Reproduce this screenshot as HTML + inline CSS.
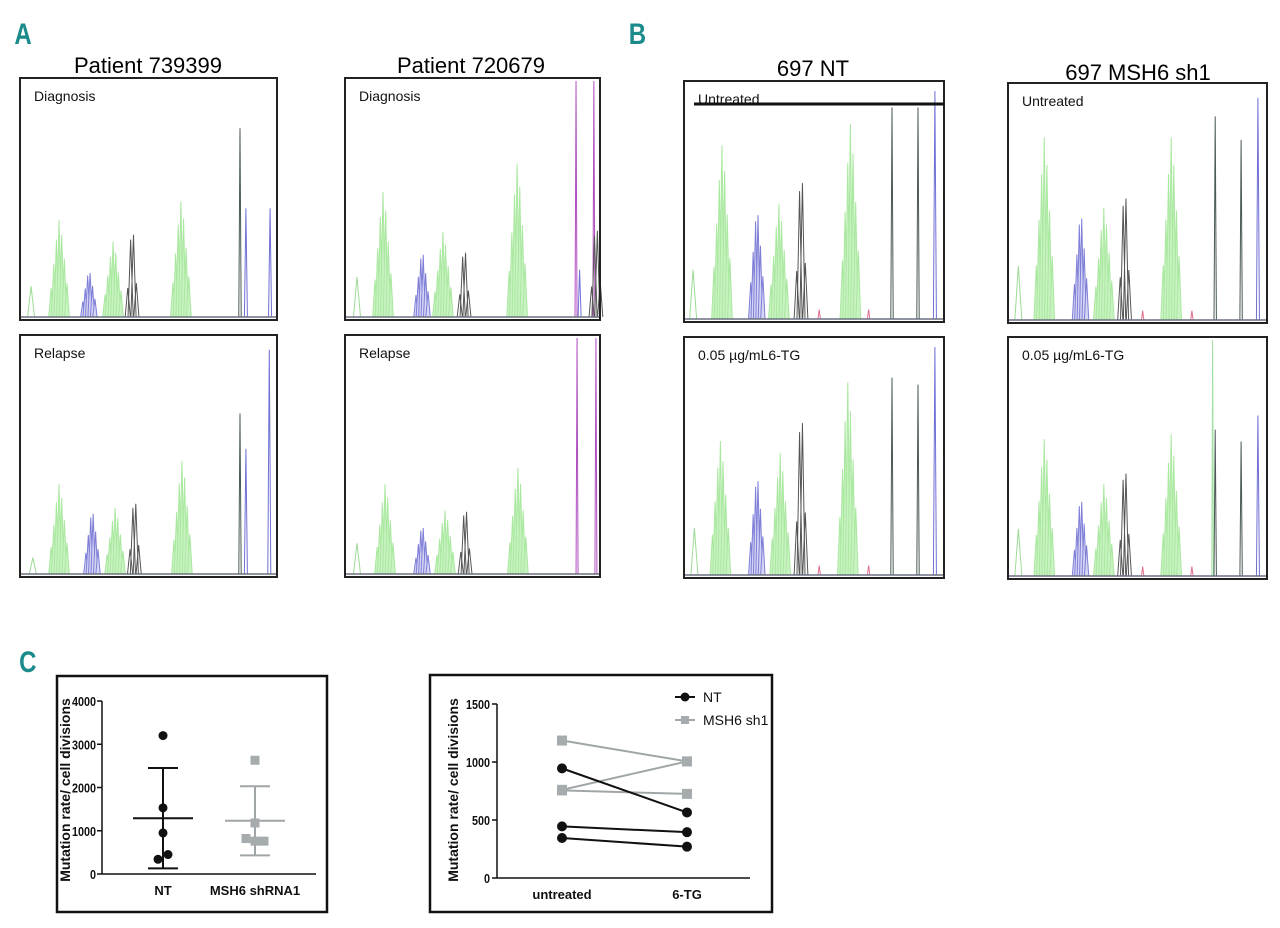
<!DOCTYPE html>
<html><head><meta charset="utf-8">
<style>
html,body{margin:0;padding:0;background:#fff;}
svg{display:block;font-family:"Liberation Sans",sans-serif;}
.lbl{font-family:"Liberation Sans",sans-serif;font-weight:bold;fill:#1a8a8a;font-size:30px;}
</style></head>
<body>
<svg id="fig" width="1280" height="928" viewBox="0 0 1280 928" xmlns="http://www.w3.org/2000/svg">
<text class="lbl" x="14" y="44" transform="scale(0.8,1) translate(4,0)">A</text>
<text class="lbl" x="786" y="44" transform="scale(0.8,1)">B</text>
<text class="lbl" x="24" y="672" transform="scale(0.8,1)">C</text>
<text x="148" y="73" font-size="22" text-anchor="middle">Patient 739399</text>
<text x="471" y="73" font-size="22" text-anchor="middle">Patient 720679</text>
<text x="813" y="76" font-size="22" text-anchor="middle">697 NT</text>
<text x="1138" y="80" font-size="22" text-anchor="middle">697 MSH6 sh1</text>
<g id="traces"></g>
<g id="chartC"></g>
</svg>
<script>
// ---------- Electropherogram panels ----------
const panelNames = ['a1-diagnosis','a1-relapse','a2-diagnosis','a2-relapse','b-nt-untreated','b-nt-6tg','b-sh1-untreated','b-sh1-6tg'];
const panelLabels = ['Diagnosis','Relapse','Diagnosis','Relapse','Untreated','0.05 µg/mL6-TG','Untreated','0.05 µg/mL6-TG'];
const panelBoxes = [[20,78,257,242],[20,335,257,242],[345,78,255,242],[345,335,255,242],[684,81,260,241],[684,337,260,241],[1008,83,259,240],[1008,337,259,242]];
// peaks: [x fraction, height fraction, type]
const peaks = [
 [[.043,.13,'s'],[.152,.41,'g'],[.268,.22,'b'],[.362,.32,'g'],[.436,.41,'k'],[.626,.49,'g'],[.856,.8,'K'],[.879,.46,'B'],[.973,.46,'B']],
 [[.05,.07,'s'],[.152,.38,'g'],[.28,.3,'b'],[.37,.28,'g'],[.445,.35,'k'],[.63,.48,'g'],[.856,.68,'K'],[.879,.53,'B'],[.97,.95,'B']],
 [[.047,.17,'s'],[.149,.53,'g'],[.302,.31,'b'],[.384,.36,'g'],[.467,.32,'k'],[.675,.65,'g'],[.906,1,'P'],[.92,.2,'B'],[.976,1,'P'],[.984,.43,'k']],
 [[.047,.13,'s'],[.157,.38,'g'],[.302,.23,'b'],[.392,.27,'g'],[.471,.31,'k'],[.678,.45,'g'],[.91,1,'P'],[.984,1,'P']],
 [[.035,.21,'s'],[.146,.74,'g'],[.28,.52,'b'],[.365,.49,'g'],[.45,.68,'k'],[.64,.83,'g'],[.8,.9,'K'],[.9,.9,'K'],[.965,.97,'B'],[.52,.04,'r'],[.71,.04,'r']],
 [[.04,.2,'s'],[.14,.57,'g'],[.28,.47,'b'],[.37,.52,'g'],[.45,.76,'k'],[.63,.82,'g'],[.8,.84,'K'],[.9,.81,'K'],[.965,.97,'B'],[.52,.04,'r'],[.71,.04,'r']],
 [[.04,.23,'s'],[.14,.78,'g'],[.28,.51,'b'],[.37,.48,'g'],[.45,.61,'k'],[.63,.78,'g'],[.8,.87,'K'],[.9,.77,'K'],[.965,.95,'B'],[.52,.04,'r'],[.71,.04,'r']],
 [[.04,.2,'s'],[.14,.58,'g'],[.28,.37,'b'],[.37,.39,'g'],[.45,.51,'k'],[.63,.6,'g'],[.79,1,'G'],[.8,.62,'K'],[.9,.57,'K'],[.965,.68,'B'],[.52,.04,'r'],[.71,.04,'r']]
];
const NS='http://www.w3.org/2000/svg';
function mk(tag, attrs, parent){const e=document.createElementNS(NS,tag);for(const k in attrs)e.setAttribute(k,attrs[k]);parent.appendChild(e);return e;}
const env=[.3,.55,.8,1,.85,.6,.35];
const styles={g:['#a9e89f','#c9f2c2',7,2.4],b:['#7f7fd8','#d4d4f4',6,2.2],k:['#555','none',4,2.6],s:['#9edb96','none',1,3.5],K:['#4a5a55','none',1,1.2],B:['#7070d6','none',1,1.5],P:['#b050c0','none',1,1],G:['#a0e0a0','none',1,.8],r:['#e07090','none',1,1.2]};
const tg=document.getElementById('traces');
panelBoxes.forEach((bx,pi)=>{
  const [L,T,W,H]=bx; const base=T+H-3;
  const g=mk('g',{},tg);
  
  
  peaks[pi].forEach(p=>{
    const [xf,hf,t]=p; const st=styles[t]; const cx=L+xf*W; const hmax=hf*(H-6);
    const n=st[2];
    for(let i=0;i<n;i++){
      const e=n===1?1:(n===7?env[i]:env[Math.min(6,Math.round(i*6/(n-1)))]);
      const x=cx+(i-(n-1)/2)*st[3]*1.1; const h=hmax*e; const w=st[3];
      const pk=mk('path',{d:`M${x-w},${base} L${x},${base-h} L${x+w},${base}`,fill:st[1],stroke:st[0],'stroke-width':1},g);
      
      
    }
  });
  mk('line',{x1:L,y1:base,x2:L+W,y2:base,stroke:'#6a7080','stroke-width':1.5},g);
  const r=mk('rect',{x:L,y:T,width:W,height:H,fill:'none',stroke:'#222','stroke-width':2},g);
  
  
  const tx=mk('text',{x:L+14,y:T+23,'font-size':14,fill:'#111'},g);
  tx.textContent=panelLabels[pi];
  
  
});
mk('line',{x1:694,y1:104,x2:944,y2:104,stroke:'#111','stroke-width':3},tg);

// ---------- Panel C ----------
const dotCats=['NT','MSH6 shRNA1'];
const ntPoints=[3200,1530,950,450,340];
const ntOffsets=[0,0,0,1,-1];
const shPoints=[2630,1180,820,760,760];
const shOffsets=[0,0,-1,0,1];
const ntStats=[1290,2450,130]; // mean, upper, lower
const shStats=[1230,2030,430];
const dotTicks=[0,1000,2000,3000,4000];

const lineCats=['untreated','6-TG'];
const ntPairs=[[945,565],[445,395],[345,270]];
const shPairs=[[1185,1005],[760,1005],[755,725]];
const lineTicks=[0,500,1000,1500];

const cg=document.getElementById('chartC');
function txt(x,y,s,attrs,name){const t=mk('text',Object.assign({x:x,y:y,'font-size':14,'font-weight':'bold',fill:'#111'},attrs||{}),cg);t.textContent=s;return t;}
function tick(x,y,v){const s=String(v);return txt(x,y,s,{'text-anchor':'end','font-size':13,textLength:s.length*6,lengthAdjust:'spacingAndGlyphs'},'y-tick-label');}
// left chart
let b1=mk('rect',{x:57,y:676,width:270,height:236,fill:'none',stroke:'#111','stroke-width':2.5},cg);

const y1=v=>874-(v/4000)*173;
const x1=i=>[163,255][i];
mk('line',{x1:102,y1:y1(4000),x2:102,y2:y1(0),stroke:'#111','stroke-width':1.5},cg);
mk('line',{x1:102,y1:y1(0),x2:316,y2:y1(0),stroke:'#111','stroke-width':1.5},cg);
dotTicks.forEach(v=>{mk('line',{x1:97,y1:y1(v),x2:102,y2:y1(v),stroke:'#111','stroke-width':1.5},cg);tick(96,y1(v)+5,v);});
dotCats.forEach((c,i)=>txt(x1(i),y1(0)+21,c,{'text-anchor':'middle','font-size':13},'x-tick-label'));
txt(0,0,'Mutation rate/ cell divisions',{'font-size':14,'text-anchor':'middle',transform:'translate(70,790) rotate(-90)'},'y-axis-title');
function errbar(i,st,col,name){const x=x1(i);const g=mk('g',{stroke:col,'stroke-width':2},cg);
 mk('line',{x1:x-30,y1:y1(st[0]),x2:x+30,y2:y1(st[0])},g);mk('line',{x1:x,y1:y1(st[1]),x2:x,y2:y1(st[2])},g);
 mk('line',{x1:x-15,y1:y1(st[1]),x2:x+15,y2:y1(st[1])},g);mk('line',{x1:x-15,y1:y1(st[2]),x2:x+15,y2:y1(st[2])},g);}
errbar(0,ntStats,'#111','nt-mean-sd');errbar(1,shStats,'#a0a6a8','msh6-mean-sd');
ntPoints.forEach((v,k)=>{const c=mk('circle',{cx:x1(0)+ntOffsets[k]*5,cy:y1(v),r:4.5,fill:'#111'},cg);});
shPoints.forEach((v,k)=>{const c=mk('rect',{x:x1(1)+shOffsets[k]*9-4.5,y:y1(v)-4.5,width:9,height:9,fill:'#a6acae'},cg);});
// right chart
let b2=mk('rect',{x:430,y:675,width:342,height:237,fill:'none',stroke:'#111','stroke-width':2.5},cg);

const y2=v=>878-(v/1500)*174;
const x2=i=>[562,687][i];
mk('line',{x1:497,y1:y2(1500),x2:497,y2:y2(0),stroke:'#111','stroke-width':1.5},cg);
mk('line',{x1:497,y1:y2(0),x2:750,y2:y2(0),stroke:'#111','stroke-width':1.5},cg);
lineTicks.forEach(v=>{mk('line',{x1:492,y1:y2(v),x2:497,y2:y2(v),stroke:'#111','stroke-width':1.5},cg);tick(490,y2(v)+5,v);});
lineCats.forEach((c,i)=>txt(x2(i),y2(0)+21,c,{'text-anchor':'middle','font-size':13},'x-tick-label'));
txt(0,0,'Mutation rate/ cell divisions',{'font-size':14,'text-anchor':'middle',transform:'translate(458,790) rotate(-90)'},'y-axis-title');
shPairs.forEach(p=>{const l=mk('line',{x1:x2(0),y1:y2(p[0]),x2:x2(1),y2:y2(p[1]),stroke:'#a0a6a8','stroke-width':2},cg);
 p.forEach((v,i)=>{const r=mk('rect',{x:x2(i)-5,y:y2(v)-5,width:10,height:10,fill:'#a6acae'},cg);});});
ntPairs.forEach(p=>{const l=mk('line',{x1:x2(0),y1:y2(p[0]),x2:x2(1),y2:y2(p[1]),stroke:'#111','stroke-width':2},cg);
 p.forEach((v,i)=>{const c=mk('circle',{cx:x2(i),cy:y2(v),r:5,fill:'#111'},cg);});});
// legend
const lg=mk('g',{},cg);
mk('line',{x1:675,y1:697,x2:695,y2:697,stroke:'#111','stroke-width':2},lg);mk('circle',{cx:685,cy:697,r:4.5,fill:'#111'},lg);
mk('line',{x1:675,y1:720,x2:695,y2:720,stroke:'#a0a6a8','stroke-width':2},lg);mk('rect',{x:681,y:716,width:8,height:8,fill:'#a6acae'},lg);
let t1=mk('text',{x:703,y:702,'font-size':14,fill:'#111'},lg);t1.textContent='NT';
let t2=mk('text',{x:703,y:725,'font-size':14,fill:'#111'},lg);t2.textContent='MSH6 sh1';
</script>
</body></html>
